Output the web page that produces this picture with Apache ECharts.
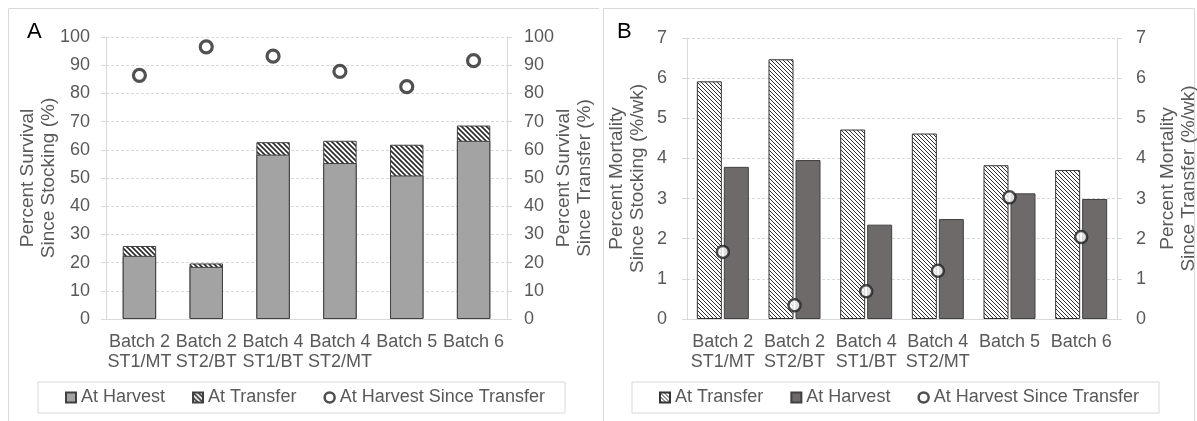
<!DOCTYPE html>
<html>
<head>
<meta charset="utf-8">
<script src="https://cdn.jsdelivr.net/npm/echarts@6/dist/echarts.min.js"></script>
<style>
html,body{margin:0;padding:0;background:#fff;}
#a{position:absolute;left:0;top:0;width:599px;height:421px;}
#b{position:absolute;left:599px;top:0;width:598px;height:421px;}
</style>
</head>
<body>
<div id="a"></div>
<div id="b"></div>
<script>
const categories = ['Batch 2\nST1/MT', 'Batch 2\nST2/BT', 'Batch 4\nST1/BT', 'Batch 4\nST2/MT', 'Batch 5', 'Batch 6'];
// Panel A: percent survival
const survHarvest = [22.4, 18.5, 58.3, 55.3, 50.9, 63.2];
const survTransfer = [25.9, 19.7, 62.7, 63.2, 61.8, 68.6];
const survSinceTransfer = [86.4, 96.5, 93.2, 87.8, 82.4, 91.6];
// Panel B: percent mortality per week
const mortTransfer = [5.92, 6.47, 4.72, 4.62, 3.83, 3.71];
const mortHarvest = [3.79, 3.96, 2.35, 2.49, 3.13, 2.99];
const mortSinceTransfer = [1.67, 0.34, 0.69, 1.20, 3.03, 2.04];
const ticksA = [0, 100, 10];
const ticksB = [0, 7, 1];

const FONT = '"Liberation Sans", Arial, sans-serif';
const GRAY = '#595959';
const LIGHT = '#d9d9d9';

function hatch(size, lw, color) {
  const c = document.createElement('canvas');
  c.width = size; c.height = size;
  const g = c.getContext('2d');
  g.fillStyle = '#fff'; g.fillRect(0, 0, size, size);
  g.strokeStyle = color; g.lineWidth = lw;
  g.beginPath();
  g.moveTo(-1, -1); g.lineTo(size + 1, size + 1);
  g.moveTo(-1, size - 1); g.lineTo(1, size + 1);
  g.moveTo(size - 1, -1); g.lineTo(size + 1, 1);
  g.stroke();
  return c;
}

function yAx(t, pos, name, margin, gap, split) {
  return {
    type: 'value', position: pos, min: t[0], max: t[1], interval: t[2],
    name: name, nameLocation: 'middle', nameRotate: 90, nameGap: gap, nameMoveOverlap: false,
    nameTextStyle: { fontFamily: FONT, fontSize: 19, color: GRAY, lineHeight: 21 },
    axisLine: { show: true, lineStyle: { color: LIGHT } },
    axisTick: { show: true, length: 5, lineStyle: { color: LIGHT } },
    axisLabel: { fontFamily: FONT, fontSize: 18, color: GRAY, margin: margin },
    splitLine: { show: split, lineStyle: { color: LIGHT, type: [3, 2] } }
  };
}

function xAx() {
  return {
    type: 'category', data: categories,
    axisLine: { show: true, lineStyle: { color: LIGHT } },
    axisTick: { show: false },
    axisLabel: { fontFamily: FONT, fontSize: 18, color: GRAY, margin: 13, lineHeight: 20, interval: 0 }
  };
}

function frame(x) {
  return { type: 'rect', left: x, top: 6, shape: { width: 591, height: 440 },
    style: { fill: 'none', stroke: LIGHT, lineWidth: 1 }, silent: true };
}

function legendCfg(left, names) {
  return {
    left: left, top: 382, padding: [6, 20, 6, 27], itemGap: 27,
    borderColor: LIGHT, borderWidth: 1, itemWidth: 10, itemHeight: 10,
    textStyle: { fontFamily: FONT, fontSize: 18, color: GRAY, lineHeight: 19 },
    data: [
      { name: names[0], icon: 'rect' },
      { name: names[1], icon: 'rect' },
      { name: names[2], icon: 'circle', itemStyle: { color: '#fff', borderColor: '#222', borderWidth: 2.5 } }
    ]
  };
}

const chartA = echarts.init(document.getElementById('a'));
chartA.setOption({
  animation: false,
  textStyle: { fontFamily: FONT },
  title: { text: 'A', left: 22, top: 16, textStyle: { fontFamily: FONT, fontSize: 22, fontWeight: 'normal', color: '#000' } },
  graphic: [frame(6)],
  grid: { left: 106, width: 401, top: 37, height: 282, outerBoundsMode: 'none', containLabel: false },
  legend: legendCfg(38, ['At Harvest', 'At Transfer', 'At Harvest Since Transfer']),
  xAxis: xAx(),
  yAxis: [
    yAx(ticksA, 'left', 'Percent Survival\nSince Stocking (%)', 16, 47, true),
    yAx(ticksA, 'right', 'Percent Survival\nSince Transfer (%)', 17, 46, false)
  ],
  series: [
    { name: 'At Transfer', type: 'bar', data: survTransfer, barWidth: '50%', yAxisIndex: 0,
      itemStyle: { color: { image: hatch(5, 1.6, '#2a2a2a'), repeat: 'repeat' }, borderColor: '#404040', borderWidth: 1 } },
    { name: 'At Harvest', type: 'bar', data: survHarvest, barWidth: '50%', barGap: '-100%', yAxisIndex: 0,
      itemStyle: { color: '#a3a3a3', borderColor: '#404040', borderWidth: 1 } },
    { name: 'At Harvest Since Transfer', type: 'scatter', data: survSinceTransfer, yAxisIndex: 1,
      symbol: 'circle', symbolSize: 12,
      itemStyle: { color: '#fff', borderColor: '#262626', borderWidth: 3.2 } }
  ]
});

const chartB = echarts.init(document.getElementById('b'));
chartB.setOption({
  animation: false,
  textStyle: { fontFamily: FONT },
  title: { text: 'B', left: 13, top: 16, textStyle: { fontFamily: FONT, fontSize: 22, fontWeight: 'normal', color: '#000' } },
  graphic: [frame(2)],
  grid: { left: 88, width: 430, top: 38, height: 281, outerBoundsMode: 'none', containLabel: false },
  legend: legendCfg(33, ['At Transfer', 'At Harvest', 'At Harvest Since Transfer']),
  xAxis: xAx(),
  yAxis: [
    yAx(ticksB, 'left', 'Percent Mortality\nSince Stocking (%/wk)', 20, 39, true),
    yAx(ticksB, 'right', 'Percent Mortality\nSince Transfer (%/wk)', 19, 40, false)
  ],
  series: [
    { name: 'At Transfer', type: 'bar', data: mortTransfer, barWidth: 25, barGap: '8%', yAxisIndex: 0,
      itemStyle: { color: { image: hatch(4, 1, '#303030'), repeat: 'repeat' }, borderColor: '#333', borderWidth: 1 } },
    { name: 'At Harvest', type: 'bar', data: mortHarvest, barWidth: 25, yAxisIndex: 0,
      itemStyle: { color: '#6e6a6a', borderColor: '#404040', borderWidth: 1 } },
    { name: 'At Harvest Since Transfer', type: 'scatter', data: mortSinceTransfer, yAxisIndex: 1,
      symbol: 'circle', symbolSize: 12, z: 5,
      itemStyle: { color: '#fff', borderColor: '#222', borderWidth: 2.5 } }
  ]
});
</script>
</body>
</html>
